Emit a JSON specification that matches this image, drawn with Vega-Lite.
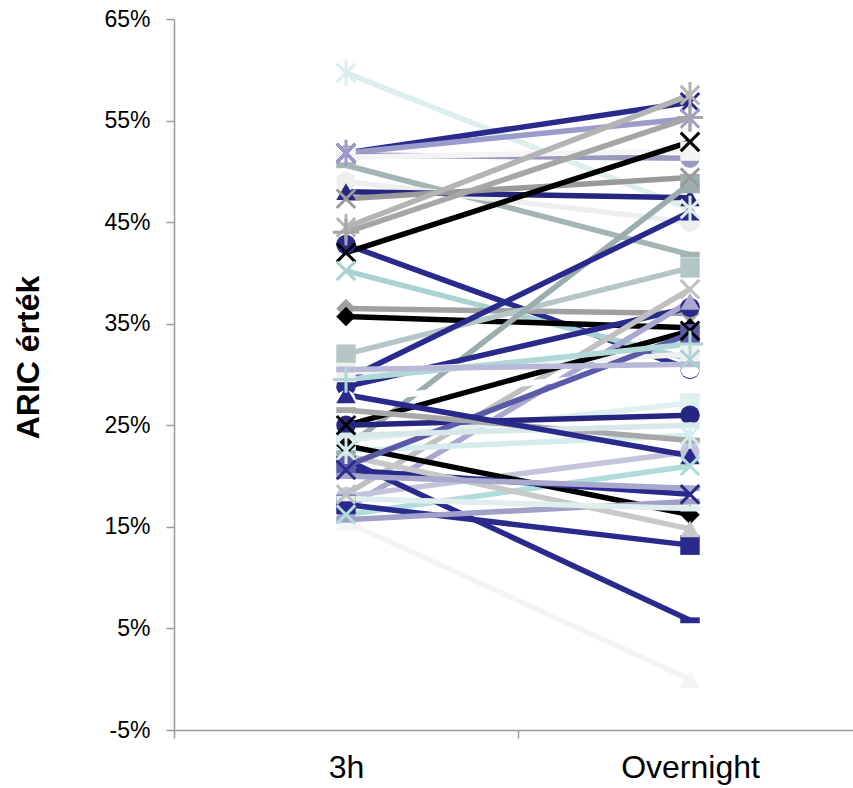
{
  "$schema": "https://vega.github.io/schema/vega-lite/v6.json",
  "width": 688,
  "height": 711,
  "autosize": {"type": "none"},
  "padding": {"left": 174, "top": 19, "right": 0, "bottom": 58},
  "background": "white",
  "config": {
    "view": {"stroke": null},
    "font": "Liberation Sans"
  },
  "datasets": {
    "series": [
      {"id": "s01", "h3": 59.7, "on": 46.3},
      {"id": "s02", "h3": 51.8, "on": 56.8},
      {"id": "s03", "h3": 51.8, "on": 55.2},
      {"id": "s04", "h3": 51.6, "on": 51.3},
      {"id": "s05", "h3": 51.4, "on": 52.0},
      {"id": "s06", "h3": 50.6, "on": 41.8},
      {"id": "s07", "h3": 49.0, "on": 45.0},
      {"id": "s08", "h3": 48.0, "on": 47.4},
      {"id": "s09", "h3": 47.3, "on": 49.4},
      {"id": "s10", "h3": 44.5, "on": 57.5},
      {"id": "s11", "h3": 44.0, "on": 55.3},
      {"id": "s12", "h3": 42.8, "on": 30.5},
      {"id": "s13", "h3": 42.0, "on": 52.9},
      {"id": "s14", "h3": 40.2, "on": 31.5},
      {"id": "s15", "h3": 36.5, "on": 36.0},
      {"id": "s16", "h3": 35.7, "on": 34.6},
      {"id": "s17", "h3": 32.0, "on": 40.5},
      {"id": "s18", "h3": 22.8, "on": 48.8},
      {"id": "s19", "h3": 29.5, "on": 46.0},
      {"id": "s20", "h3": 28.8, "on": 36.6},
      {"id": "s21", "h3": 18.2, "on": 38.4},
      {"id": "s22", "h3": 16.8, "on": 37.2},
      {"id": "s23", "h3": 30.2, "on": 32.0},
      {"id": "s24", "h3": 27.5, "on": 30.6},
      {"id": "s25", "h3": 25.0, "on": 34.3},
      {"id": "s26", "h3": 23.5, "on": 27.2},
      {"id": "s27", "h3": 25.0, "on": 26.0},
      {"id": "s28", "h3": 22.5, "on": 24.0},
      {"id": "s29", "h3": 18.0, "on": 22.4},
      {"id": "s30", "h3": 16.2, "on": 21.0},
      {"id": "s31", "h3": 17.2, "on": 13.2},
      {"id": "s32", "h3": 21.6, "on": 5.8},
      {"id": "s33", "h3": 15.5, "on": 0.0},
      {"id": "s34", "h3": 23.0, "on": 16.2},
      {"id": "s35", "h3": 15.7, "on": 17.5},
      {"id": "s36", "h3": 20.6, "on": 18.2},
      {"id": "s37", "h3": 22.0, "on": 14.8},
      {"id": "s38", "h3": 21.0, "on": 34.0},
      {"id": "s39", "h3": 26.5, "on": 23.5},
      {"id": "s40", "h3": 24.0, "on": 25.0},
      {"id": "s41", "h3": 20.0, "on": 18.8},
      {"id": "s42", "h3": 28.0, "on": 22.0},
      {"id": "s43", "h3": 29.5, "on": 33.0},
      {"id": "s44", "h3": 30.5, "on": 31.0},
      {"id": "s45", "h3": 17.8, "on": 16.8}
    ]
  },
  "data": {"name": "series"},
  "transform": [
    {"fold": ["h3", "on"], "as": ["key", "value"]},
    {"calculate": "datum.key === 'h3' ? '3h' : 'Overnight'", "as": "time"}
  ],
  "encoding": {
    "x": {
      "field": "time",
      "type": "nominal",
      "scale": {"domain": ["3h", "Overnight"], "paddingInner": 0, "paddingOuter": 0},
      "axis": {
        "title": null,
        "labelAngle": 0,
        "tickBand": "extent",
        "labelAlign": "center",
        "labelFontSize": 32,
        "labelColor": "#000000",
        "labelPadding": 14,
        "tickSize": 8,
        "tickColor": "#999999",
        "tickWidth": 1.5,
        "domainColor": "#999999",
        "domainWidth": 1.5,
        "grid": false
      }
    },
    "y": {
      "field": "value",
      "type": "quantitative",
      "scale": {"domain": [-5, 65], "nice": false, "zero": false},
      "axis": {
        "title": "ARIC érték",
        "titleFontSize": 32,
        "titleFontWeight": "bold",
        "titleColor": "#000000",
        "titlePadding": 58,
        "titleY": 338,
        "values": [-5, 5, 15, 25, 35, 45, 55, 65],
        "labelExpr": "datum.value + '%'",
        "labelFontSize": 23,
        "labelColor": "#000000",
        "labelPadding": 16,
        "tickSize": 8,
        "tickColor": "#999999",
        "tickWidth": 1.5,
        "domainColor": "#999999",
        "domainWidth": 1.5,
        "grid": false
      }
    },
    "color": {
      "field": "id",
      "type": "nominal",
      "legend": null,
      "scale": {
        "domain": ["s01","s02","s03","s04","s05","s06","s07","s08","s09","s10","s11","s12","s13","s14","s15","s16","s17","s18","s19","s20","s21","s22","s23","s24","s25","s26","s27","s28","s29","s30","s31","s32","s33","s34","s35","s36","s37","s38","s39","s40","s41","s42","s43","s44","s45"],
        "range": ["#dceeee","#2a2a8c","#9c9ccc","#9a9abf","#f4f4f4","#a3b5b5","#eeeeee","#262680","#9a9a9a","#b4b4b4","#a6a6a6","#2a2a8c","#000000","#a9d2d2","#a0a0a0","#000000","#b5c6c6","#9cadad","#2a2a8c","#2a2a8c","#c0c0c0","#a8a8d0","#f0f0f0","#ffffff","#000000","#dff0f0","#262680","#d4ecec","#c4c4dc","#b0dcdc","#2a2a8c","#2a2a8c","#f4f4f4","#000000","#a0a0c8","#2a2a8c","#c8c8c8","#5a5aa8","#a8a8a8","#d8e8e8","#a8a8cc","#2a2a8c","#b0d8d8","#b8b8d8","#e0eeee"]
      }
    },
    "shape": {
      "field": "id",
      "type": "nominal",
      "legend": null,
      "scale": {
        "domain": ["s01","s02","s03","s04","s05","s06","s07","s08","s09","s10","s11","s12","s13","s14","s15","s16","s17","s18","s19","s20","s21","s22","s23","s24","s25","s26","s27","s28","s29","s30","s31","s32","s33","s34","s35","s36","s37","s38","s39","s40","s41","s42","s43","s44","s45"],
        "range": [
          "M-0.7,-0.7L0.7,0.7M-0.7,0.7L0.7,-0.7M0,-1L0,1",
          "M-0.7,-0.7L0.7,0.7M-0.7,0.7L0.7,-0.7",
          "M-0.7,-0.7L0.7,0.7M-0.7,0.7L0.7,-0.7M0,-1L0,1",
          "circle",
          "square",
          "M-1,-0.3L1,-0.3L1,0.3L-1,0.3Z",
          "circle",
          "triangle-up",
          "M-0.7,-0.7L0.7,0.7M-0.7,0.7L0.7,-0.7",
          "M-0.7,-0.7L0.7,0.7M-0.7,0.7L0.7,-0.7M0,-1L0,1",
          "M-1,0L1,0M0,-1L0,1",
          "circle",
          "M-0.7,-0.7L0.7,0.7M-0.7,0.7L0.7,-0.7",
          "M-0.7,-0.7L0.7,0.7M-0.7,0.7L0.7,-0.7",
          "diamond",
          "diamond",
          "square",
          "square",
          "triangle-up",
          "circle",
          "M-0.7,-0.7L0.7,0.7M-0.7,0.7L0.7,-0.7",
          "triangle-up",
          "square",
          "circle",
          "M-0.7,-0.7L0.7,0.7M-0.7,0.7L0.7,-0.7",
          "square",
          "circle",
          "M-0.7,-0.7L0.7,0.7M-0.7,0.7L0.7,-0.7M0,-1L0,1",
          "circle",
          "M-0.7,-0.7L0.7,0.7M-0.7,0.7L0.7,-0.7",
          "square",
          "M-1,-0.3L1,-0.3L1,0.3L-1,0.3Z",
          "triangle-up",
          "diamond",
          "M-1,-0.3L1,-0.3L1,0.3L-1,0.3Z",
          "M-0.7,-0.7L0.7,0.7M-0.7,0.7L0.7,-0.7",
          "triangle-up",
          "square",
          "M-1,-0.3L1,-0.3L1,0.3L-1,0.3Z",
          "M-1,-0.3L1,-0.3L1,0.3L-1,0.3Z",
          "M-1,-0.3L1,-0.3L1,0.3L-1,0.3Z",
          "triangle-up",
          "M-1,0L1,0M0,-1L0,1",
          "M-1,-0.3L1,-0.3L1,0.3L-1,0.3Z",
          "M-1,-0.3L1,-0.3L1,0.3L-1,0.3Z"
        ]
      }
    }
  },
  "layer": [
    {
      "mark": {"type": "line", "strokeWidth": 5.5, "clip": false},
      "encoding": {"detail": {"field": "id"}, "shape": null}
    },
    {
      "transform": [{"filter": "indexof(['s01','s02','s03','s09','s10','s11','s13','s14','s21','s25','s28','s30','s36','s43'], datum.id) < 0"}],
      "mark": {"type": "point", "filled": true, "opacity": 1, "size": 380}
    },
    {
      "transform": [{"filter": "indexof(['s01','s02','s03','s09','s10','s11','s13','s14','s21','s25','s28','s30','s36','s43'], datum.id) >= 0"}],
      "mark": {"type": "point", "filled": false, "opacity": 1, "size": 700, "strokeWidth": 3}
    }
  ]
}
